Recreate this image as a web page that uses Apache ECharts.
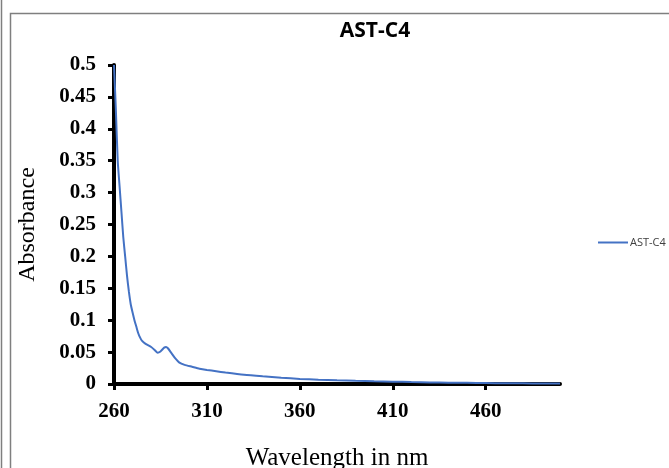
<!DOCTYPE html>
<html><head><meta charset="utf-8">
<script src="https://cdn.jsdelivr.net/npm/echarts@6/dist/echarts.min.js"></script>
<style>html,body{margin:0;padding:0;background:#fff}#c{width:669px;height:468px}</style>
</head><body><div id="c"></div>
<script>
const seriesName = 'AST-C4';
const wavelengths = [260,261,262,263,264,265,266,267,268,269,270,271,272,273,274,275,277,280,282,283.5,285,287,288,289,291,293,295,298,302,306,310,315,320,330,340,350,360,370,380,390,400,410,420,430,440,450,460,470,480,490,500];
const absorbance = [0.5,0.43,0.35,0.31,0.27,0.23,0.2,0.17,0.145,0.125,0.112,0.1,0.09,0.08,0.073,0.068,0.063,0.058,0.053,0.049,0.051,0.057,0.058,0.056,0.048,0.04,0.034,0.03,0.027,0.024,0.022,0.02,0.018,0.0145,0.012,0.0098,0.008,0.0068,0.0058,0.005,0.0043,0.0037,0.003,0.0025,0.0021,0.0018,0.0015,0.0012,0.001,0.0009,0.0008];
const xTicks = [260,310,360,410,460];
const yMin = 0, yMax = 0.5, yStep = 0.05;

const chart = echarts.init(document.getElementById('c'));
const axisFont = {fontFamily:'Liberation Serif', fontWeight:'bold', fontSize:21, color:'#000'};
chart.setOption({
  animation:false,
  title:{text:seriesName, left:370, top:16, textAlign:'center',
    textStyle:{fontFamily:'Open Sans', fontWeight:'bold', fontSize:21, color:'#000'}},
  legend:{show:true, left:593, top:232, itemWidth:30, itemHeight:2, itemGap:0,
    icon:'rect',
    textStyle:{fontFamily:'Open Sans', fontSize:11, color:'#404040', padding:[0,0,0,-3]},
    data:[seriesName]},
  grid:{left:114, top:65, width:446, height:319, containLabel:false, outerBoundsMode:'none'},
  xAxis:{type:'value', min:260, max:500, interval:50,
    name:'Wavelength in nm', nameLocation:'middle', nameGap:62,
    nameTextStyle:{fontFamily:'Liberation Serif', fontSize:25, color:'#000'},
    axisLine:{show:true, onZero:false, lineStyle:{color:'#000', width:4}},
    axisTick:{show:true, length:6, lineStyle:{color:'#000', width:3},
      customValues: xTicks},
    axisLabel:{...axisFont, margin:17, customValues: xTicks},
    splitLine:{show:false}},
  yAxis:{type:'value', min:yMin, max:yMax, interval:yStep,
    name:'Absorbance', nameLocation:'middle', nameGap:74,
    nameTextStyle:{fontFamily:'Liberation Serif', fontSize:24, color:'#000'},
    axisLine:{show:true, lineStyle:{color:'#000', width:4}},
    axisTick:{show:true, length:6, lineStyle:{color:'#000', width:3}},
    axisLabel:{...axisFont, margin:18, formatter:v=>String(+v.toFixed(2))},
    splitLine:{show:false}},
  graphic:[
    {type:'line', shape:{x1:1.5,y1:0,x2:1.5,y2:468}, style:{stroke:'#7f7f7f', lineWidth:1.5}, silent:true},
    {type:'polyline', shape:{points:[[10.5,468],[10.5,13.5],[669,13.5]]}, style:{stroke:'#7f7f7f', lineWidth:1.5, fill:null}, silent:true}
  ],
  series:[{name:seriesName, type:'line', showSymbol:false, smooth:0.2,
    lineStyle:{color:'#4472C4', width:2}, itemStyle:{color:'#4472C4'},
    data: wavelengths.map((w,i)=>[w, absorbance[i]])}]
});
</script></body></html>
